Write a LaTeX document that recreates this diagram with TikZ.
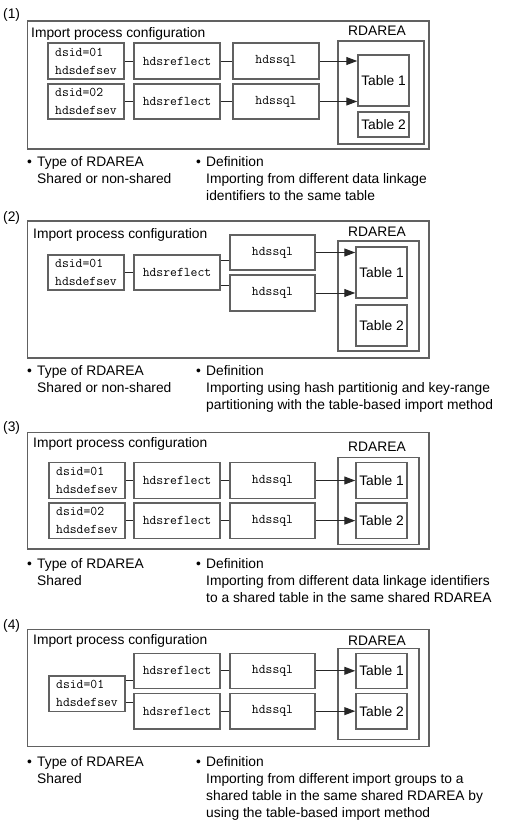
\documentclass[tikz,border=0pt]{standalone}
\usepackage{fontspec}
\setmainfont{Liberation Sans}
\usetikzlibrary{arrows.meta,calc}
\tikzset{
  boxs/.style={draw=black!62,line width=1.5pt,rectangle,inner sep=0pt,font=\fontsize{13.3}{18}\selectfont\ttfamily,align=left},
  tbox/.style={draw=black!62,line width=1.5pt,rectangle,inner sep=0pt,font=\fontsize{13.8}{17}\selectfont},
  frame/.style={draw=black!62,line width=1.5pt,rectangle,inner sep=0pt},
  txt/.style={anchor=mid west,inner sep=0pt,yshift=-2.5pt,font=\fontsize{13.8}{17}\selectfont},
  ctxt/.style={anchor=mid,inner sep=0pt,yshift=-2.5pt,font=\fontsize{13.8}{17}\selectfont},
  conn/.style={draw=black!85,line width=1pt},
  arr/.style={draw=black!85,line width=1pt,-{Triangle[length=11pt,width=8pt]}}
}
\newcommand\bx[7][boxs]{\node[#1,minimum width={#5-#3},minimum height={#6-#4}] (#2) at ({(#3+#5)/2},{(#4+#6)/2}) {#7};}
\begin{document}
\begin{tikzpicture}[x=1pt,y=-1pt]
\useasboundingbox (0,0) rectangle (525,825);
% ---------------- Panel 1
\node[txt] (n1) at (3,13.3) {(1)};
\bx[frame]{o1}{27.7}{21}{429}{149}{}
\node[txt] (h1) at (31,32) {Import process configuration};
\node[ctxt] (ra1) at (377,30) {RDAREA};
\bx[frame]{r1}{338}{41}{424}{144}{}
\bx{d1a}{48}{43}{124}{79}{dsid=01\\hdsdefsev}
\bx{f1a}{134}{43}{220}{79}{hdsreflect}
\bx{s1a}{233}{43}{319}{79}{hdssql}
\bx{d1b}{48}{84}{124}{119}{dsid=02\\hdsdefsev}
\bx{f1b}{134}{84}{220}{119}{hdsreflect}
\bx{s1b}{233}{84}{319}{119}{hdssql}
\bx[tbox]{t1a}{358}{55}{409}{106}{Table 1}
\bx[tbox]{t1b}{358}{112}{409}{137}{Table 2}
\draw[conn] (d1a.east) -- (f1a.west);
\draw[conn] (f1a.east) -- (s1a.west);
\draw[conn] (d1b.east) -- (f1b.west);
\draw[conn] (f1b.east) -- (s1b.west);
\draw[arr] (s1a.east) -- (s1a.east -| t1a.west);
\draw[arr] (s1b.east) -- (s1b.east -| t1a.west);
\node[txt] (b1a) at (27,161) {\textbullet};
\node[txt] (b1a1) at (37,161) {Type of RDAREA};
\node[txt] (b1a2) at (37,178) {Shared or non-shared};
\node[txt] (b1b) at (196,161) {\textbullet};
\node[txt] (b1b1) at (206,161) {Definition};
\node[txt] (b1b2) at (206,178) {Importing from different data linkage};
\node[txt] (b1b3) at (206,195) {identifiers to the same table};
% ---------------- Panel 2
\node[txt] (n2) at (3,216.7) {(2)};
\bx[frame]{o2}{27.7}{221}{429}{358}{}
\node[txt] (h2) at (33,233) {Import process configuration};
\node[ctxt] (ra2) at (377,231) {RDAREA};
\bx[frame]{r2}{338}{241}{419}{351}{}
\bx{d2}{48}{255}{124}{290}{dsid=01\\hdsdefsev}
\bx{f2}{134}{255}{220}{290}{hdsreflect}
\bx{s2a}{230}{235}{315}{270}{hdssql}
\bx{s2b}{230}{275}{315}{311}{hdssql}
\bx[tbox]{t2a}{356}{247}{407}{298}{Table 1}
\bx[tbox]{t2b}{356}{305}{407}{346}{Table 2}
\draw[conn] (d2.east) -- (f2.west);
\coordinate (c2a) at ([yshift=12pt]f2.east);
\coordinate (c2b) at ([yshift=-12.5pt]f2.east);
\draw[conn] (c2a) -- (c2a -| s2a.west);
\draw[conn] (c2b) -- (c2b -| s2b.west);
\draw[arr] (s2a.east) -- (s2a.east -| t2a.west);
\draw[arr] (s2b.east) -- (s2b.east -| t2a.west);
\node[txt] (b2a) at (27,370) {\textbullet};
\node[txt] (b2a1) at (37,370) {Type of RDAREA};
\node[txt] (b2a2) at (37,387) {Shared or non-shared};
\node[txt] (b2b) at (196,370) {\textbullet};
\node[txt] (b2b1) at (206,370) {Definition};
\node[txt] (b2b2) at (206,387) {Importing using hash partitionig and key-range};
\node[txt] (b2b3) at (206,404) {partitioning with the table-based import method};
% ---------------- Panel 3
\node[txt] (n3) at (3,426.7) {(3)};
\bx[frame]{o3}{27.7}{432.7}{429}{549}{}
\node[txt] (h3) at (33,442.3) {Import process configuration};
\node[ctxt] (ra3) at (377,446) {RDAREA};
\bx[frame]{r3}{338}{457.7}{419}{544.3}{}
\bx{d3a}{49}{462.7}{125}{498.3}{dsid=01\\hdsdefsev}
\bx{f3a}{134}{462.7}{220}{498.3}{hdsreflect}
\bx{s3a}{230}{462.7}{315}{498.3}{hdssql}
\bx{d3b}{49}{503}{125}{538.3}{dsid=02\\hdsdefsev}
\bx{f3b}{134}{503}{220}{538.3}{hdsreflect}
\bx{s3b}{230}{503}{315}{538.3}{hdssql}
\bx[tbox]{t3a}{356}{462.7}{407}{498.3}{Table 1}
\bx[tbox]{t3b}{356}{503}{407}{538.3}{Table 2}
\draw[conn] (d3a.east) -- (f3a.west);
\draw[conn] (f3a.east) -- (s3a.west);
\draw[conn] (d3b.east) -- (f3b.west);
\draw[conn] (f3b.east) -- (s3b.west);
\draw[arr] (s3a.east) -- (t3a.west);
\draw[arr] (s3b.east) -- (t3b.west);
\node[txt] (b3a) at (27,563) {\textbullet};
\node[txt] (b3a1) at (37,563) {Type of RDAREA};
\node[txt] (b3a2) at (37,580) {Shared};
\node[txt] (b3b) at (196,563) {\textbullet};
\node[txt] (b3b1) at (206,563) {Definition};
\node[txt] (b3b2) at (206,580) {Importing from different data linkage identifiers};
\node[txt] (b3b3) at (206,597) {to a shared table in the same shared RDAREA};
% ---------------- Panel 4
\node[txt] (n4) at (3,624) {(4)};
\bx[frame]{o4}{27.7}{629.3}{429}{746.7}{}
\node[txt] (h4) at (33,639.3) {Import process configuration};
\node[ctxt] (ra4) at (377,640) {RDAREA};
\bx[frame]{r4}{338}{648.3}{419}{739.3}{}
\bx{d4}{49}{676}{125}{711.7}{dsid=01\\hdsdefsev}
\bx{f4a}{134}{653.3}{220}{688.3}{hdsreflect}
\bx{f4b}{134}{693.3}{220}{729}{hdsreflect}
\bx{s4a}{230}{653.3}{315}{688.3}{hdssql}
\bx{s4b}{230}{693.3}{315}{729}{hdssql}
\bx[tbox]{t4a}{356}{653.3}{407}{688.3}{Table 1}
\bx[tbox]{t4b}{356}{693.3}{407}{729}{Table 2}
\coordinate (c4a) at ([yshift=13.1pt]d4.east);
\coordinate (c4b) at ([yshift=-8.5pt]d4.east);
\draw[conn] (c4a) -- (c4a -| f4a.west);
\draw[conn] (c4b) -- (c4b -| f4b.west);
\draw[conn] (f4a.east) -- (s4a.west);
\draw[conn] (f4b.east) -- (s4b.west);
\draw[arr] (s4a.east) -- (t4a.west);
\draw[arr] (s4b.east) -- (t4b.west);
\node[txt] (b4a) at (27,761) {\textbullet};
\node[txt] (b4a1) at (37,761) {Type of RDAREA};
\node[txt] (b4a2) at (37,778) {Shared};
\node[txt] (b4b) at (196,761) {\textbullet};
\node[txt] (b4b1) at (206,761) {Definition};
\node[txt] (b4b2) at (206,778) {Importing from different import groups to a};
\node[txt] (b4b3) at (206,795) {shared table in the same shared RDAREA by};
\node[txt] (b4b4) at (206,812) {using the table-based import method};
\end{tikzpicture}
\end{document}
